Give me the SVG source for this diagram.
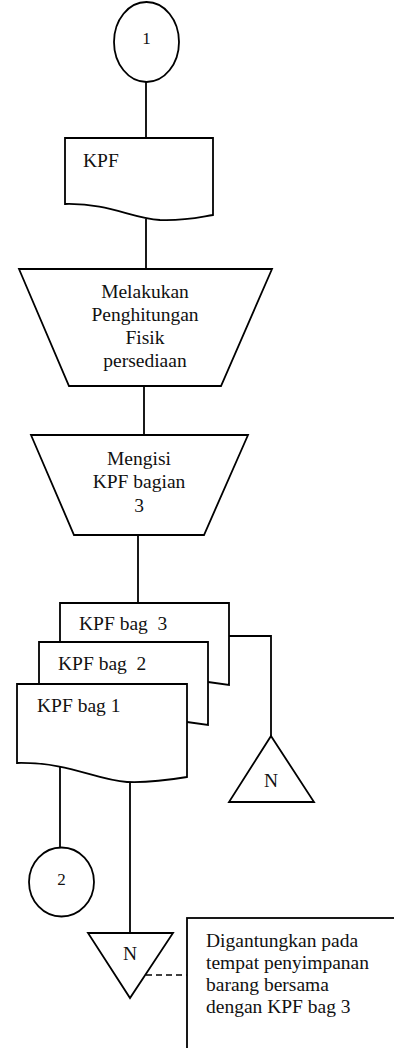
<svg xmlns="http://www.w3.org/2000/svg" width="394" height="1048" viewBox="0 0 394 1048">
  <style>
    .shape { fill: #ffffff; stroke: #000000; stroke-width: 1.8; stroke-linejoin: miter; }
    .line { fill: none; stroke: #000000; stroke-width: 1.8; }
    .dash { fill: none; stroke: #000000; stroke-width: 1.6; stroke-dasharray: 6 4; }
    text { font-size: 19.5px; fill: #111111; white-space: pre; }
    .c { text-anchor: middle; }
    .num { font-size: 17px; }
  </style>

  <rect x="0" y="0" width="394" height="1048" fill="#ffffff"/>

  <!-- connectors -->
  <g id="connectors">
    <line class="line" x1="146" y1="82" x2="146" y2="138"/>
    <line class="line" x1="146" y1="219" x2="146" y2="269"/>
    <line class="line" x1="144" y1="386" x2="144" y2="435"/>
    <line class="line" x1="138" y1="535" x2="138" y2="603"/>
    <polyline class="line" points="229,636 271,636 271,736"/>
    <line class="line" x1="60" y1="767" x2="60" y2="848"/>
    <line class="line" x1="130" y1="781" x2="130" y2="933"/>
    <line class="dash" x1="146" y1="975" x2="187" y2="975"/>
  </g>

  <g font-family="'Liberation Serif', 'DejaVu Serif', serif">
    <!-- off-page connector 1 -->
    <g id="conn-1">
      <ellipse class="shape" cx="146.5" cy="42" rx="32.5" ry="40"/>
      <text class="c num" x="146.5" y="44">1</text>
    </g>

    <!-- document KPF -->
    <g id="doc-kpf">
      <path class="shape" d="M65,138 H213 V215 C200,217 185,221 160,220 C130,218 110,203 65,204 Z"/>
      <text x="83" y="167">KPF</text>
    </g>

    <!-- manual operation: counting -->
    <g id="op-hitung">
      <polygon class="shape" points="19,269 272,269 221,386 69,386"/>
      <text class="c" x="145" y="298">Melakukan</text>
      <text class="c" x="145" y="321">Penghitungan</text>
      <text class="c" x="145" y="344">Fisik</text>
      <text class="c" x="145" y="367">persediaan</text>
    </g>

    <!-- manual operation: fill in form -->
    <g id="op-isi">
      <polygon class="shape" points="31,435 248,435 204,535 74,535"/>
      <text class="c" x="139" y="465">Mengisi</text>
      <text class="c" x="139" y="488">KPF bagian</text>
      <text class="c" x="139" y="512">3</text>
    </g>

    <!-- document set KPF bag 1-3 -->
    <g id="doc-bag3">
      <path class="shape" d="M60,603 H229 V685 L208,682 C170,680 110,690 60,682 Z"/>
      <text x="79" y="630">KPF bag  3</text>
    </g>
    <g id="doc-bag2">
      <path class="shape" d="M39,642 H208 V725 L187,722 C150,720 90,730 39,722 Z"/>
      <text x="58" y="670">KPF bag  2</text>
    </g>
    <g id="doc-bag1">
      <path class="shape" d="M17,684 H187 V777 C175,779 150,783 127,782 C95,780 70,762 17,763 Z"/>
      <text x="37" y="712">KPF bag 1</text>
    </g>

    <!-- archive N (file 3) -->
    <g id="archive-n1">
      <polygon class="shape" points="271,736 314,802 229,802"/>
      <text class="c" x="271" y="787">N</text>
    </g>

    <!-- off-page connector 2 -->
    <g id="conn-2">
      <ellipse class="shape" cx="61.5" cy="882" rx="32.5" ry="34.5"/>
      <text class="c num" x="61.5" y="885">2</text>
    </g>

    <!-- archive N (file 1) -->
    <g id="archive-n2">
      <polygon class="shape" points="88,933 173,933 130,998"/>
      <text class="c" x="130" y="960">N</text>
    </g>

    <!-- annotation -->
    <g id="note">
      <rect class="shape" x="187" y="918" width="220" height="150"/>
      <text x="206" y="947">Digantungkan pada</text>
      <text x="206" y="969">tempat penyimpanan</text>
      <text x="206" y="991">barang bersama</text>
      <text x="206" y="1013">dengan KPF bag 3</text>
    </g>
  </g>
</svg>
